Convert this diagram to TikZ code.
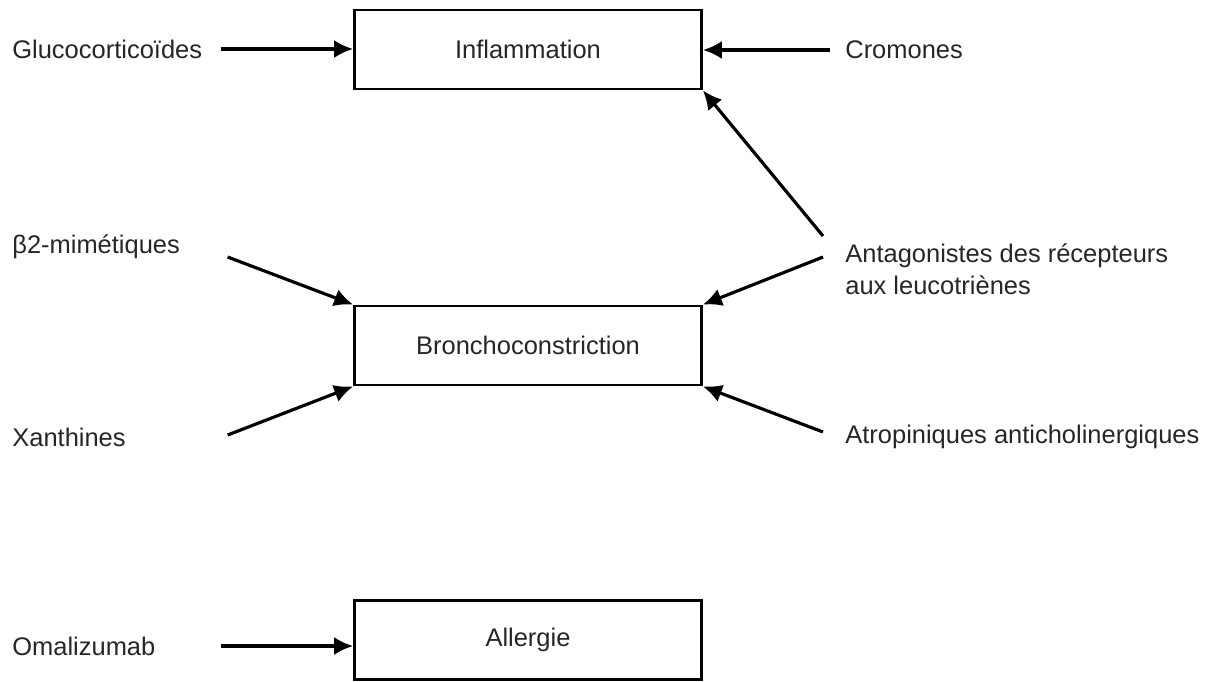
\documentclass[tikz,border=0pt]{standalone}
\usepackage{fontspec}
\setmainfont{Liberation Sans}
\usetikzlibrary{arrows.meta}
\begin{document}
\begin{tikzpicture}[
x=0.02cm,
y=-0.02cm,
every node/.style={
text=black!85,
font=\fontsize{14.5}{18.2}\selectfont
},
cadre/.style={
draw=black,
line width=1.6pt,
minimum width=6.94cm,
minimum height=1.58cm
},
gauche/.style={
anchor=west,
inner sep=0pt,
text width=4.16cm,
align=left
},
droite/.style={
anchor=west,
inner xsep=0.3cm,
inner ysep=0pt,
align=left
},
fleche/.style={
-{Latex[length=3.8mm,width=3.6mm]},
line width=1.8pt
}
]

\useasboundingbox (0,0) rectangle (1222,681);

\node[cadre] (I) at (528,49.5) {Inflammation};
\node[cadre] (B) at (528,345.5) {Bronchoconstriction};
\node[cadre] (A) at (528,640) {Allergie};

\node[gauche] (G) at (12,49) {Glucocortico\"ides};
\node[gauche] (M) at (12,247) {β2-mimétiques};
\node[gauche] (X) at (12,437) {Xanthines};
\node[gauche] (O) at (12,646) {Omalizumab};

\node[droite] (C) at (830,50) {Cromones};
\node[droite] (L) at (830,269) {Antagonistes des récepteurs\\aux leucotriènes};
\node[droite] (R) at (830,437) {Atropiniques anticholinergiques};

\draw[fleche] (G.east) -- (G.east -| I.west);
\draw[fleche] (C.west) -- (C.west -| I.east);
\draw[fleche] ([shift={(-7,-33)}]L.west) -- (I.south east);

\draw[fleche] ([shift={(7,10)}]M.east) -- (B.north west);
\draw[fleche] ([shift={(7,-2)}]X.east) -- (B.south west);
\draw[fleche] ([shift={(-7,-12)}]L.west) -- (B.north east);
\draw[fleche] ([shift={(-7,-5)}]R.west) -- (B.south east);

\draw[fleche] (O.east) -- (O.east -| A.west);

\end{tikzpicture}
\end{document}
